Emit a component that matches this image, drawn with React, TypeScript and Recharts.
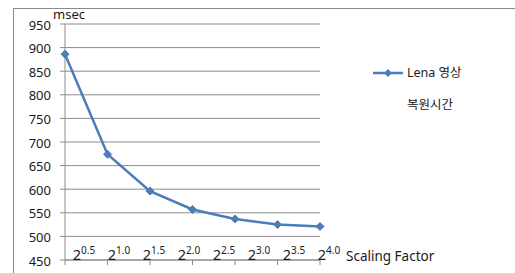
import React from 'react';
import { LineChart, Line, XAxis, YAxis, CartesianGrid, Legend, Label } from 'recharts';

const pointIndex = [0, 1, 2, 3, 4, 5, 6];
const restoreTimes = [886, 674, 596, 557, 537, 525, 521];
const exponentLabels = ['0.5', '1.0', '1.5', '2.0', '2.5', '3.0', '3.5', '4.0'];
const exponentValues = [0.5, 1.0, 1.5, 2.0, 2.5, 3.0, 3.5, 4.0];
const yTicks = [450, 500, 550, 600, 650, 700, 750, 800, 850, 900, 950];
const seriesName = 'Lena 영상 복원시간';

const data = pointIndex.map((idx, i) => ({ idx, time: restoreTimes[i] }));

const FONT = "'Noto Sans', 'Noto Sans CJK KR', sans-serif";
const GRID = '#8c8c8c';
const LINE = '#4a7ebb';
const TEXT = '#1a1a1a';

const Diamond = (props: any) => {
  const { cx, cy } = props;
  if (cx == null || cy == null) return null;
  const r = 4;
  return (
    <polygon
      points={`${cx},${cy - r} ${cx + r},${cy} ${cx},${cy + r} ${cx - r},${cy}`}
      fill={LINE}
      stroke={LINE}
      strokeWidth={1}
    />
  );
};

const ExpTick = (props: any) => {
  const { x, y, index } = props;
  return (
    <text x={x} y={y - 5} textAnchor="middle" fontFamily={FONT} fill={TEXT}>
      <tspan fontSize={14.5}>2</tspan>
      <tspan fontSize={10} dy={-6}>{exponentLabels[index]}</tspan>
    </text>
  );
};

const LegendContent = () => (
  <div style={{ fontFamily: FONT, fontSize: 12.5, color: TEXT, lineHeight: '32px' }}>
    <div style={{ display: 'flex', alignItems: 'center' }}>
      <svg width={32} height={10} style={{ marginRight: 2 }}>
        <line x1={0} y1={5} x2={30} y2={5} stroke={LINE} strokeWidth={2.5} />
        <polygon points="15,1 19,5 15,9 11,5" fill={LINE} />
      </svg>
      <span>{seriesName.split(' ').slice(0, 2).join(' ')}</span>
    </div>
    <div style={{ paddingLeft: 34 }}>{seriesName.split(' ')[2]}</div>
  </div>
);

export default function App() {
  return (
    <div style={{ position: 'absolute', left: 0, top: 0, width: 515, height: 273, background: '#fff' }}>
      <div
        style={{
          position: 'absolute',
          left: 13,
          top: 8,
          width: 502,
          height: 265,
          borderTop: '1.5px solid #8a8a8a',
          borderLeft: '1.5px solid #8a8a8a',
          boxSizing: 'border-box',
        }}
      />
      <div style={{ position: 'absolute', left: 0, top: 0 }}>
        <LineChart
          width={515}
          height={273}
          data={data}
          margin={{ top: 24, right: 195, left: 15, bottom: 7 }}
        >
          <CartesianGrid horizontal={true} vertical={false} stroke={GRID} strokeWidth={1} />
          <XAxis
            dataKey="idx"
            type="number"
            domain={[0, 6]}
            ticks={pointIndex}
            interval={0}
            height={5}
            tickSize={5}
            tick={() => <g />}
            axisLine={{ stroke: GRID }}
            tickLine={{ stroke: GRID }}
          >
            <Label
              content={(p: any) => {
                const vb = p.viewBox;
                return (
                  <text x={vb.x + vb.width + 26} y={vb.y + 1} fontFamily={FONT} fontSize={13.5} fill={TEXT}>
                    Scaling Factor
                  </text>
                );
              }}
            />
          </XAxis>
          <XAxis
            xAxisId="lbl"
            dataKey="idx"
            type="number"
            domain={[0.2286, 3.871]}
            allowDataOverflow
            ticks={exponentValues}
            interval={0}
            height={1}
            tickSize={0}
            tickMargin={0}
            axisLine={false}
            tickLine={false}
            tick={(p: any) => <ExpTick {...p} />}
          />
          <YAxis
            type="number"
            domain={[450, 950]}
            ticks={yTicks}
            interval={0}
            width={50}
            tickSize={5}
            tickMargin={9}
            axisLine={{ stroke: GRID }}
            tickLine={{ stroke: GRID }}
            tick={{ fontFamily: FONT, fontSize: 13, fill: TEXT, dy: 1 }}
          >
            <Label
              content={(p: any) => {
                const vb = p.viewBox;
                return (
                  <text x={vb.x + vb.width - 12} y={vb.y - 5} fontFamily={FONT} fontSize={13} fill={TEXT}>
                    msec
                  </text>
                );
              }}
            />
          </YAxis>
          <Line
            type="linear"
            dataKey="time"
            name={seriesName}
            stroke={LINE}
            strokeWidth={2.5}
            dot={<Diamond />}
            activeDot={false}
            isAnimationActive={false}
          />
          <Legend
            content={<LegendContent />}
            layout="vertical"
            verticalAlign="middle"
            align="center"
            wrapperStyle={{ position: 'absolute', left: 373, top: 57, width: 130 }}
          />
        </LineChart>
      </div>
    </div>
  );
}
